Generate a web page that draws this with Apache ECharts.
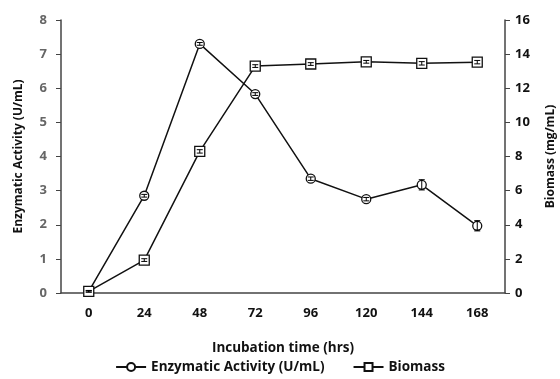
<!DOCTYPE html>
<html>
<head>
<meta charset="utf-8">
<style>
  html, body { margin: 0; padding: 0; background: #fff; }
  #chart { width: 560px; height: 379px; }
</style>
<script src="https://cdn.jsdelivr.net/npm/echarts@6/dist/echarts.min.js"></script>
</head>
<body>
<div id="chart"></div>
<script>
// data
var hours = ['0', '24', '48', '72', '96', '120', '144', '168'];
var enzyme = [0.05, 2.85, 7.30, 5.83, 3.35, 2.75, 3.17, 1.97];
var enzymeErr = [0.02, 0.04, 0.04, 0.04, 0.05, 0.05, 0.15, 0.15];
var biomass = [0.1, 1.93, 8.3, 13.3, 13.42, 13.55, 13.46, 13.53];
var biomassErr = [0.05, 0.08, 0.1, 0.08, 0.08, 0.08, 0.1, 0.1];

var font = '"Open Sans", sans-serif';

function errBars(vals, errs) {
    return vals.map(function (v, i) { return [i, v - errs[i], v + errs[i]]; });
}

function renderErr(params, api) {
    var lo = api.coord([api.value(0), api.value(1)]);
    var hi = api.coord([api.value(0), api.value(2)]);
    var w = 3;
    var st = { stroke: '#000', lineWidth: 1 };
    return {
        type: 'group',
        children: [
            { type: 'line', shape: { x1: hi[0], y1: hi[1], x2: lo[0], y2: lo[1] }, style: st },
            { type: 'line', shape: { x1: hi[0] - w, y1: hi[1], x2: hi[0] + w, y2: hi[1] }, style: st },
            { type: 'line', shape: { x1: lo[0] - w, y1: lo[1], x2: lo[0] + w, y2: lo[1] }, style: st }
        ]
    };
}

var myChart = echarts.init(document.getElementById('chart'));
var option = {
    backgroundColor: '#fff',
    animation: false,
    textStyle: { fontFamily: font },
    grid: { left: 61, right: 55, top: 20, bottom: 86, outerBoundsMode: 'none' },
    legend: {
        bottom: 0,
        left: 'center',
        itemWidth: 30,
        itemHeight: 10,
        itemGap: 28,
        data: ['Enzymatic Activity (U/mL)', 'Biomass'],
        textStyle: { fontFamily: font, fontWeight: 'bold', fontSize: 13.5, color: '#111' }
    },
    xAxis: {
        type: 'category',
        data: hours,
        name: 'Incubation time (hrs)',
        nameLocation: 'middle',
        nameGap: 48,
        nameTextStyle: { fontFamily: font, fontWeight: 'bold', fontSize: 13.5, color: '#111' },
        axisLine: { lineStyle: { color: '#444', width: 1.5 } },
        axisTick: { alignWithLabel: true, length: 5, lineStyle: { color: '#444' } },
        axisLabel: { fontFamily: font, fontWeight: 'bold', fontSize: 13, color: '#111', margin: 14 },
        splitLine: { show: false }
    },
    yAxis: [
        {
            type: 'value',
            min: 0, max: 8, interval: 1,
            name: 'Enzymatic Activity (U/mL)',
            nameLocation: 'middle',
            nameRotate: 90,
            nameGap: 36,
            nameTextStyle: { fontFamily: font, fontWeight: 'bold', fontSize: 12, color: '#111' },
            axisLine: { show: true, lineStyle: { color: '#444', width: 1.5 } },
            axisTick: { show: true, length: 5, lineStyle: { color: '#444' } },
            axisLabel: { fontFamily: font, fontWeight: 'bold', fontSize: 13, color: '#666', margin: 14 },
            splitLine: { show: false }
        },
        {
            type: 'value',
            min: 0, max: 16, interval: 2,
            name: 'Biomass (mg/mL)',
            nameLocation: 'middle',
            nameRotate: 90,
            nameGap: 40,
            nameTextStyle: { fontFamily: font, fontWeight: 'bold', fontSize: 12, color: '#111' },
            axisLine: { show: true, lineStyle: { color: '#444', width: 1.5 } },
            axisTick: { show: true, length: 5, lineStyle: { color: '#444' } },
            axisLabel: { fontFamily: font, fontWeight: 'bold', fontSize: 13, color: '#111', margin: 10 },
            splitLine: { show: false }
        }
    ],
    series: [
        {
            name: 'Enzymatic Activity (U/mL)',
            type: 'line',
            yAxisIndex: 0,
            data: enzyme,
            symbol: 'circle',
            symbolSize: 9,
            z: 3,
            lineStyle: { color: '#111', width: 1.5 },
            itemStyle: { color: '#fff', borderColor: '#111', borderWidth: 1.3 }
        },
        {
            name: 'Biomass',
            type: 'line',
            yAxisIndex: 1,
            data: biomass,
            symbol: 'rect',
            symbolSize: 10,
            z: 3,
            lineStyle: { color: '#111', width: 1.5 },
            itemStyle: { color: '#fff', borderColor: '#111', borderWidth: 1.3 }
        },
        {
            type: 'custom',
            yAxisIndex: 0,
            data: errBars(enzyme, enzymeErr),
            renderItem: renderErr,
            z: 4,
            silent: true
        },
        {
            type: 'custom',
            yAxisIndex: 1,
            data: errBars(biomass, biomassErr),
            renderItem: renderErr,
            z: 4,
            silent: true
        }
    ]
};
myChart.setOption(option);
</script>
</body>
</html>
